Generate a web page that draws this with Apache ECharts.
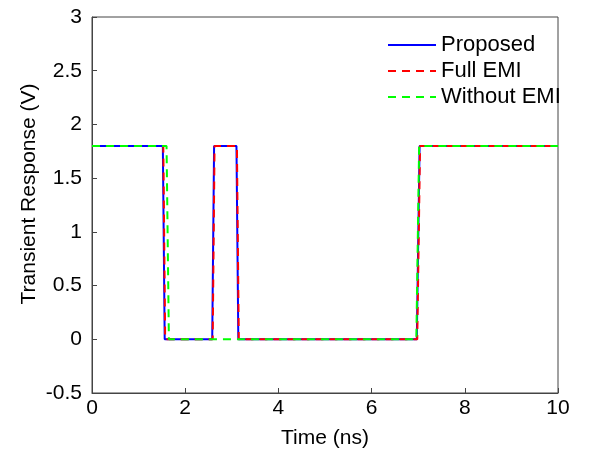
<!DOCTYPE html>
<html><head><meta charset="utf-8">
<script src="https://cdn.jsdelivr.net/npm/echarts@6/dist/echarts.min.js"></script>
<style>html,body{margin:0;padding:0;background:#fff}#c{width:608px;height:454px}</style>
</head><body><div id="c"></div>
<script>
var seriesNames = ['Proposed', 'Full EMI', 'Without EMI'];
var proposedX = [0, 1.52, 1.56, 2.58, 2.62, 3.10, 3.14, 6.97, 7.03, 10];
var proposedY = [1.8, 1.8, 0, 0, 1.8, 1.8, 0, 0, 1.8, 1.8];
var fullEmiX = [0, 1.53, 1.57, 2.59, 2.63, 3.11, 3.15, 6.98, 7.04, 10];
var fullEmiY = [1.8, 1.8, 0, 0, 1.8, 1.8, 0, 0, 1.8, 1.8];
var withoutEmiX = [0, 1.60, 1.65, 6.96, 7.02, 10];
var withoutEmiY = [1.8, 1.8, 0, 0, 1.8, 1.8];

function pairs(xs, ys) { return xs.map(function (x, i) { return [x, ys[i]]; }); }
var font = 'Liberation Sans, Arial, sans-serif';
var fs = 21;
var chart = echarts.init(document.getElementById('c'));
chart.setOption({
  animation: false,
  grid: { left: 92, right: 50, top: 17, bottom: 61, show: true, borderColor: '#444', borderWidth: 1, backgroundColor: 'transparent' },
  legend: {
    orient: 'vertical', left: 382, top: 29, itemWidth: 48, itemHeight: 14, itemGap: 4,
    itemStyle: { opacity: 0 },
    textStyle: { fontFamily: font, fontSize: 22, color: '#000' },
    data: seriesNames
  },
  xAxis: {
    type: 'value', min: 0, max: 10, interval: 2,
    name: 'Time (ns)', nameLocation: 'middle', nameGap: 35,
    nameTextStyle: { fontFamily: font, fontSize: fs, color: '#000' },
    axisLine: { show: true, onZero: false, lineStyle: { color: '#444' } },
    axisTick: { show: true, inside: true, length: 5, lineStyle: { color: '#444' } },
    axisLabel: { fontFamily: font, fontSize: fs, color: '#000', margin: 5 },
    splitLine: { show: false }
  },
  yAxis: {
    type: 'value', min: -0.5, max: 3, interval: 0.5,
    name: 'Transient Response (V)', nameLocation: 'middle', nameGap: 52, nameMoveOverlap: false,
    nameTextStyle: { fontFamily: font, fontSize: fs, color: '#000', padding: [0, 0, 0, 22] },
    axisLine: { show: true, onZero: false, lineStyle: { color: '#444' } },
    axisTick: { show: true, inside: true, length: 5, lineStyle: { color: '#444' } },
    axisLabel: { fontFamily: font, fontSize: fs, color: '#000', margin: 10 },
    splitLine: { show: false }
  },
  series: [
    { name: seriesNames[0], type: 'line', data: pairs(proposedX, proposedY), symbol: 'none',
      lineStyle: { color: '#0000ff', width: 2 }, itemStyle: { color: '#0000ff' }, z: 2 },
    { name: seriesNames[1], type: 'line', data: pairs(fullEmiX, fullEmiY), symbol: 'none',
      lineStyle: { color: '#ff0000', width: 2, type: [8, 6] }, itemStyle: { color: '#ff0000' }, z: 3 },
    { name: seriesNames[2], type: 'line', data: pairs(withoutEmiX, withoutEmiY), symbol: 'none',
      lineStyle: { color: '#00ff00', width: 2, type: [8, 6] }, itemStyle: { color: '#00ff00' }, z: 4 }
  ]
});
</script>
</body></html>
